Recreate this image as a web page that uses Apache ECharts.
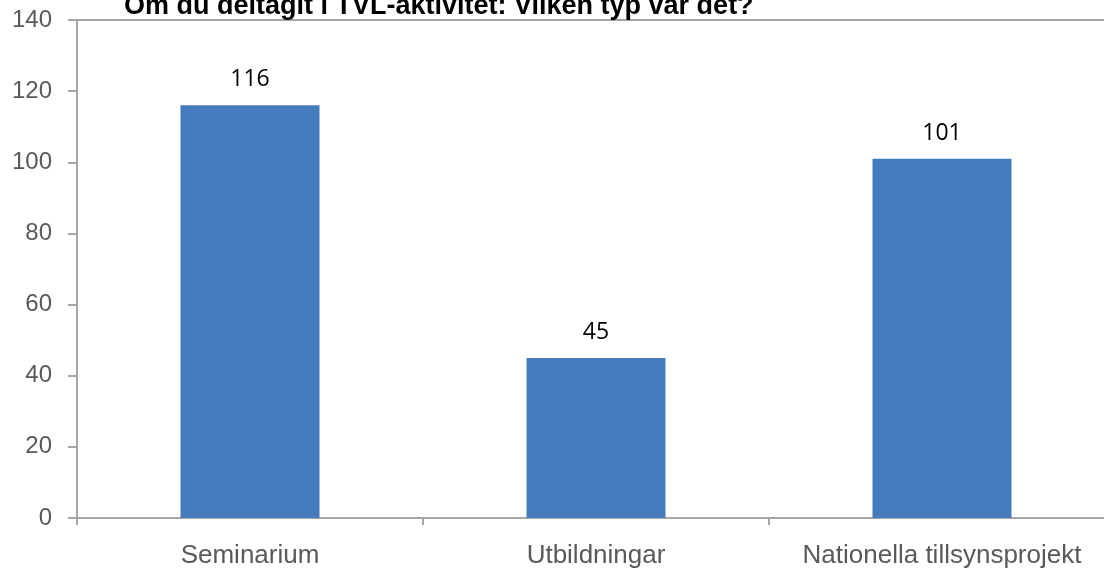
<html lang="sv">
<head>
<meta charset="UTF-8">
<script src="https://cdn.jsdelivr.net/npm/echarts@6/dist/echarts.min.js"></script>
<style>body{margin:0;background:#fff;}</style>
</head>
<body>
<div id="main" style="width:1104px;height:571px;"></div>
<script>
var categories = ['Seminarium', 'Utbildningar', 'Nationella tillsynsprojekt'];
var counts = [116, 45, 101];
var yTicks = [0, 20, 40, 60, 80, 100, 120, 140];

var chart = echarts.init(document.getElementById('main'));
var option = {
    animation: false,
    title: {
        text: 'Om du deltagit i TVL-aktivitet: Vilken typ var det?',
        left: 119, top: -12,
        textStyle: {fontFamily: 'Liberation Sans', fontWeight: 'bold', fontSize: 27, color: '#000'}
    },
    grid: {
        left: 77, top: 20, bottom: 53, width: 1038,
        outerBoundsMode: 'none',
        show: true, borderColor: '#a6a6a6', borderWidth: 2
    },
    xAxis: {
        type: 'category',
        data: categories,
        axisLine: {lineStyle: {color: '#a6a6a6', width: 2}},
        axisTick: {show: true, length: 7, lineStyle: {color: '#a6a6a6', width: 2}},
        axisLabel: {interval: 0, hideOverlap: false, margin: 25, fontFamily: 'Liberation Sans', fontSize: 26, color: '#595959'}
    },
    yAxis: {
        type: 'value',
        min: yTicks[0], max: yTicks[yTicks.length - 1], interval: 20,
        axisLine: {show: true, lineStyle: {color: '#a6a6a6', width: 2}},
        axisTick: {show: true, length: 9, lineStyle: {color: '#a6a6a6', width: 2}},
        splitLine: {show: false},
        axisLabel: {margin: 25, fontFamily: 'Liberation Sans', fontSize: 24, color: '#595959'}
    },
    series: [{
        type: 'bar',
        data: counts,
        barWidth: 139,
        itemStyle: {color: '#457bbc'},
        label: {show: true, position: 'top', distance: 14, fontFamily: 'Open Sans', fontSize: 23, color: '#000'}
    }]
};
chart.setOption(option);
</script>
</body>
</html>
